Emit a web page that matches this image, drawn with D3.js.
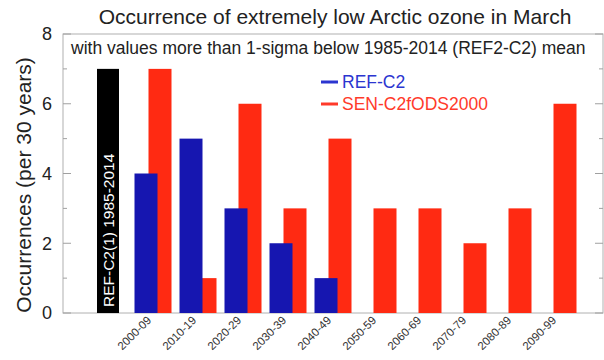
<!DOCTYPE html>
<html><head><meta charset="utf-8">
<script src="https://cdn.jsdelivr.net/npm/d3@7"></script>
<style>body{margin:0;background:#fff;} svg{display:block;font-family:"Liberation Sans",Arial,sans-serif;}</style>
</head><body>
<svg id="c" width="604" height="360"></svg>
<script>
const categories = ["2000-09","2010-19","2020-29","2030-39","2040-49","2050-59","2060-69","2070-79","2080-89","2090-99"];
const refValue = 7;
const refLabel = "REF-C2(1) 1985-2014";
const refC2 = [4,5,3,2,1,0,0,0,0,0];
const senC2 = [7,1,6,3,5,3,3,2,3,6];
const yTicks = [0,2,4,6,8];
const minorTicks = [1,3,5,7];

const svg = d3.select("#c");
const L = 63, R = 603, T = 34, B = 313;
const x = d3.scaleLinear().domain([0,12]).range([L,R]);
const y = d3.scaleLinear().domain([0,8]).range([B,T]);
const bw = 23, off = 7;
const blue = "#1616b0", red = "#ff2a12";

// frame
svg.append("rect").attr("x",L).attr("y",T).attr("width",R-L).attr("height",B-T)
  .attr("fill","none").attr("stroke","#b0b0b0").attr("stroke-width",1);

// ticks
const tg = svg.append("g").attr("stroke","#a0a0a0");
yTicks.forEach(v=>{
  tg.append("line").attr("x1",L).attr("x2",L+8).attr("y1",y(v)).attr("y2",y(v));
  tg.append("line").attr("x1",R-8).attr("x2",R).attr("y1",y(v)).attr("y2",y(v));
});
minorTicks.forEach(v=>{
  tg.append("line").attr("x1",L).attr("x2",L+4).attr("y1",y(v)).attr("y2",y(v));
  tg.append("line").attr("x1",R-4).attr("x2",R).attr("y1",y(v)).attr("y2",y(v));
});
svg.append("g").selectAll("text").data(yTicks).join("text")
  .attr("x",L-11).attr("y",d=>y(d)).attr("dy","0.36em").attr("text-anchor","end")
  .attr("font-size",18).attr("fill","#222").text(d=>d);

// reference bar
svg.append("rect").attr("x",x(1)-11).attr("width",22).attr("y",y(refValue)).attr("height",y(0)-y(refValue)).attr("fill","#000");
svg.append("text").attr("transform",`translate(${x(1)+5.5},${y(0)-6}) rotate(-90)`)
  .attr("font-size",15.5).attr("fill","#fff").text(refLabel);

// red bars (behind)
svg.append("g").selectAll("rect").data(senC2).join("rect")
  .attr("x",(d,i)=>x(i+2)+off-bw/2).attr("width",bw)
  .attr("y",d=>y(d)).attr("height",d=>y(0)-y(d)).attr("fill",red);
// blue bars
svg.append("g").selectAll("rect").data(refC2.filter(d=>d>0)).join("rect")
  .attr("x",(d,i)=>x(i+2)-off-bw/2).attr("width",bw)
  .attr("y",d=>y(d)).attr("height",d=>y(0)-y(d)).attr("fill",blue);

// x labels
svg.append("g").selectAll("text").data(categories).join("text")
  .attr("transform",(d,i)=>`translate(${x(i+2)-1},${B+8}) rotate(-45)`)
  .attr("text-anchor","end").attr("font-size",11.5).attr("fill","#333").text(d=>d);

// y label
svg.append("text").attr("transform",`translate(31,185) rotate(-90)`)
  .attr("text-anchor","middle").attr("font-size",21).attr("fill","#222").text("Occurrences (per 30 years)");

// title
svg.append("text").attr("x",335).attr("y",24).attr("text-anchor","middle")
  .attr("font-size",21).attr("fill","#222").text("Occurrence of extremely low Arctic ozone in March");
svg.append("text").attr("x",71).attr("y",54)
  .attr("font-size",17.5).attr("fill","#222").text("with values more than 1-sigma below 1985-2014 (REF2-C2) mean");

// legend
const leg = [{n:"REF-C2",c:"#2b35d0"},{n:"SEN-C2fODS2000",c:"#ff3a2a"}];
leg.forEach((d,i)=>{
  svg.append("line").attr("x1",321).attr("x2",338).attr("y1",82+i*22).attr("y2",82+i*22)
    .attr("stroke",d.c).attr("stroke-width",3);
  svg.append("text").attr("x",342).attr("y",82+i*22).attr("dy","0.36em")
    .attr("font-size",17.5).attr("fill",d.c).text(d.n);
});
</script>
</body></html>
